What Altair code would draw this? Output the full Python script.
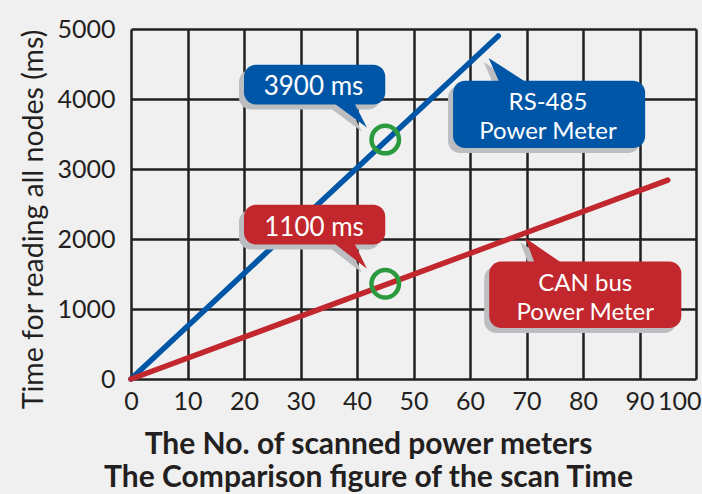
import altair as alt
import pandas as pd

# ---- series -------------------------------------------------------------
rs485_meters = [0, 65]
rs485_time = [0, 4900]
can_meters = [0, 95]
can_time = [0, 2840]

# highlighted reading on each line
marker_meters = [45, 45]
marker_time = [3420, 1360]

# ---- callouts (data units) ---------------------------------------------
callout_id = ["t3900", "t1100", "rs485", "can"]
callout_color = ["blue", "red", "blue", "red"]
box_x1 = [20, 20, 57, 63.4]
box_x2 = [45, 45, 91, 97.4]
box_y1 = [3920, 1920, 3300, 730]
box_y2 = [4490, 2490, 4260, 1680]

# pointer: base edge (y, x-from, x-to) and tip (x, y)
ptr_base_y = [3980, 1980, 4200, 1620]
ptr_base_x1 = [35.3, 35.3, 65.4, 71.6]
ptr_base_x2 = [39.3, 39.3, 70.7, 76.9]
ptr_tip_x = [41.75, 41.75, 63.3, 69.8]
ptr_tip_y = [3594, 1576, 4586, 2014]

label_text = ["3900 ms", "1100 ms", "RS-485\nPower Meter", "CAN bus\nPower Meter"]
label_x = [32.3, 32.4, 73.8, 80.4]
label_y = [4060, 2040, 3846, 1253]
label_size = [26, 26, 24, 24]

x_ticks = list(range(0, 101, 10))
y_ticks = list(range(0, 5001, 1000))

BLUE = "#0056a6"
RED = "#c1272d"
GREEN = "#2b9a3f"
SHADOW = "#bbbdc0"
INK = "#231f20"
BG = "#f0f0f0"
FONT = "Lato"

# ---- tables -------------------------------------------------------------
lines = pd.DataFrame({
    "x": rs485_meters + can_meters,
    "y": rs485_time + can_time,
    "series": ["RS-485"] * len(rs485_meters) + ["CAN bus"] * len(can_meters),
})
markers = pd.DataFrame({"x": marker_meters, "y": marker_time})
boxes = pd.DataFrame({
    "id": callout_id, "c": callout_color,
    "x": box_x1, "x2": box_x2, "y": box_y1, "y2": box_y2,
})
ptr_rows = []
for i, cid in enumerate(callout_id):
    ptr_rows.append({"id": cid, "c": callout_color[i], "y": ptr_base_y[i],
                     "x": ptr_base_x1[i], "x2": ptr_base_x2[i]})
    ptr_rows.append({"id": cid, "c": callout_color[i], "y": ptr_tip_y[i],
                     "x": ptr_tip_x[i], "x2": ptr_tip_x[i]})
pointers = pd.DataFrame(ptr_rows)
labels = pd.DataFrame({"x": label_x, "y": label_y, "text": label_text, "size": label_size})

# ---- scales & axes ------------------------------------------------------
xscale = alt.Scale(domain=[0, 100], nice=False, zero=False)
yscale = alt.Scale(domain=[0, 5000], nice=False, zero=False)

xaxis = alt.Axis(
    values=x_ticks, format="d", grid=True, gridColor=INK, gridWidth=2.5, gridOpacity=1,
    domain=False, ticks=False, tickSize=0,
    labelFont=FONT, labelFontSize=25, labelColor=INK, labelPadding=10,
    labelFlush=False, labelOverlap=False,
    labelAlign={"condition": {"test": "datum.value == 100", "value": "right"}, "value": "center"},
    labelOffset={"condition": {"test": "datum.value == 100", "value": 5}, "value": 0},
    title=["The No. of scanned power meters", "The Comparison figure of the scan Time"],
    titleFont=FONT, titleFontSize=30, titleFontWeight="bold", titleColor=INK,
    titleLineHeight=33, titleX=237, titleY=74, titleAlign="center",
    titleBaseline="alphabetic", titleAnchor="start",
)
yaxis = alt.Axis(
    values=y_ticks, format="d", grid=True, gridColor=INK, gridWidth=2.5, gridOpacity=1,
    domain=False, ticks=False, tickSize=0,
    labelFont=FONT, labelFontSize=25, labelColor=INK, labelPadding=16,
    labelOverlap=False, labelBaseline="middle",
    title="Time for reading all nodes (ms)",
    titleFont=FONT, titleFontSize=28.5, titleFontWeight="normal", titleColor=INK,
    titleAngle=270, titleX=-89, titleY=190, titleAlign="center",
    titleBaseline="alphabetic", titleAnchor="start",
)


def X(field="x"):
    return alt.X(f"{field}:Q", scale=xscale, axis=xaxis, stack=None)


def Y(field="y"):
    return alt.Y(f"{field}:Q", scale=yscale, axis=yaxis, stack=None)


callout_color_scale = alt.Scale(domain=["blue", "red"], range=[BLUE, RED])

# ---- layers -------------------------------------------------------------
line_layer = alt.Chart(lines).mark_line(strokeWidth=5.5, strokeCap="round").encode(
    x=X(), y=Y(),
    color=alt.Color("series:N", scale=alt.Scale(domain=["RS-485", "CAN bus"], range=[BLUE, RED]), legend=None),
)

marker_layer = alt.Chart(markers).mark_point(
    shape="circle", size=756, filled=False, stroke=GREEN, strokeWidth=4.5, opacity=1
).encode(x=X(), y=Y())

box_shadow = alt.Chart(boxes).mark_rect(
    cornerRadius=12, color=SHADOW,
    xOffset=-5, x2Offset=-5, yOffset=5, y2Offset=5,
).encode(x=X(), x2="x2:Q", y=Y(), y2="y2:Q")

ptr_shadow = alt.Chart(pointers).mark_area(
    orient="horizontal", color=SHADOW, xOffset=-5, x2Offset=-5, yOffset=4,
).encode(y=Y(), x=X(), x2="x2:Q", detail="id:N")

ptr_layer = alt.Chart(pointers).mark_area(orient="horizontal").encode(
    y=Y(), x=X(), x2="x2:Q", detail="id:N",
    color=alt.Color("c:N", scale=callout_color_scale, legend=None),
)

box_layer = alt.Chart(boxes).mark_rect(cornerRadius=12).encode(
    x=X(), x2="x2:Q", y=Y(), y2="y2:Q",
    color=alt.Color("c:N", scale=callout_color_scale, legend=None),
)

text_layer = alt.Chart(labels).mark_text(
    font=FONT, color="white", align="center",
    baseline="alphabetic", lineBreak="\n", lineHeight=29,
).encode(
    x=X(), y=Y(), text="text:N",
    size=alt.Size("size:Q", scale=None, legend=None),
)

chart = alt.layer(
    line_layer, marker_layer, box_shadow, ptr_shadow, ptr_layer, box_layer, text_layer
).resolve_scale(color="independent").properties(
    width=565, height=350,
    autosize=alt.AutoSizeParams(type="none"),
    padding={"left": 131, "top": 29, "right": 6, "bottom": 115},
    background=BG,
).configure_view(stroke=None)

chart.save("out.html", embed_options={"renderer": "svg", "actions": False})
